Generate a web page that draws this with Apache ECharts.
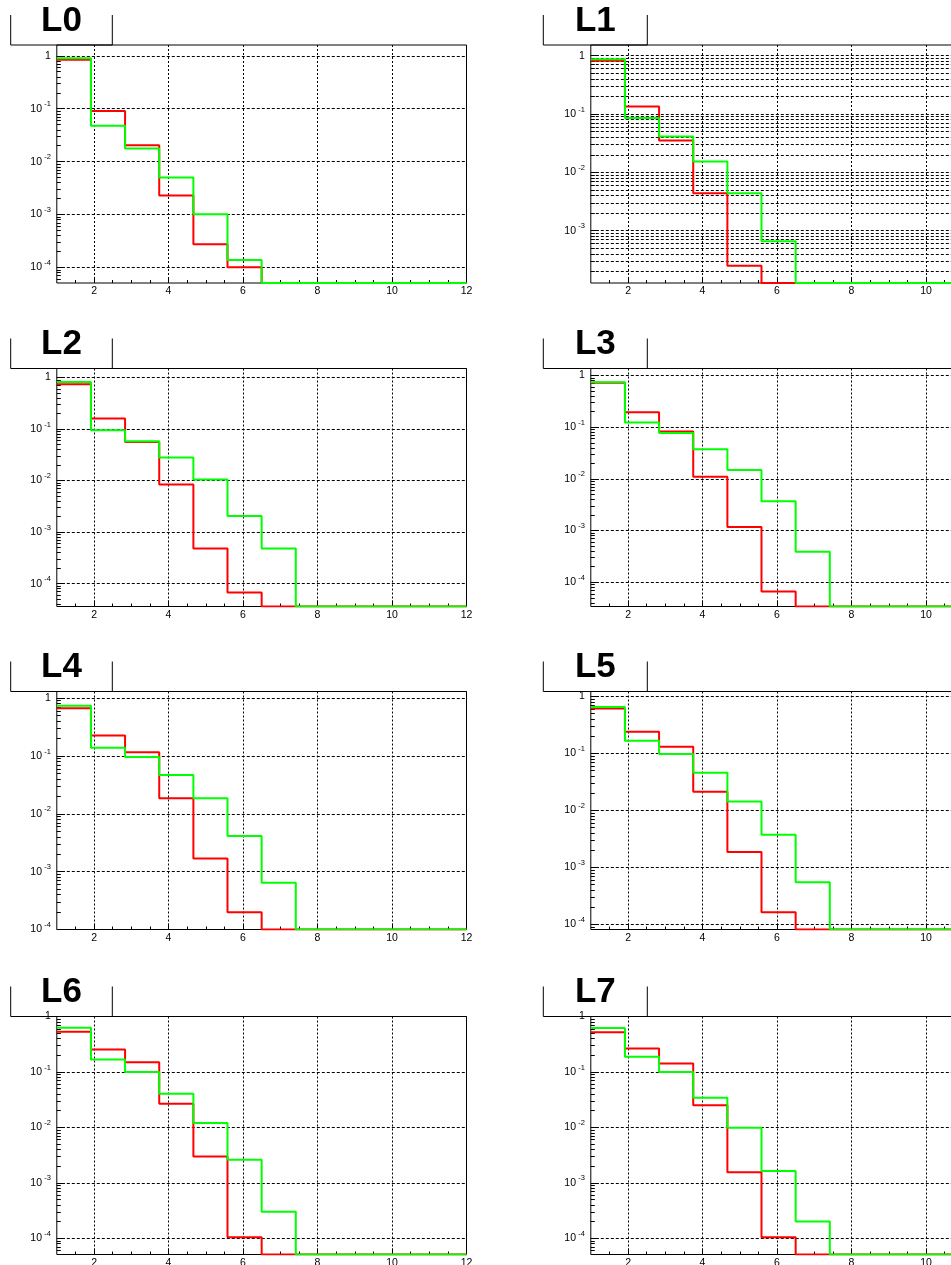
<!DOCTYPE html>
<html>
<head>
<meta charset="utf-8">
<script src="https://cdn.jsdelivr.net/npm/echarts@6/dist/echarts.min.js"></script>
<style>
html, body { margin: 0; padding: 0; background: #fff; }
#main { width: 951px; height: 1265px; }
</style>
</head>
<body>
<div id="main"></div>
<script>
// histogram binning: 12 bins between 1 and 12
var binLow = [1, 1.917, 2.833, 3.75, 4.667, 5.583, 6.5, 7.417, 8.333, 9.25, 10.167, 11.083];
var xMin = 1, xMax = 12;
var xTicks = [2, 4, 6, 8, 10, 12];
var xMinorTicks = [1.5, 2.5, 3, 3.5, 4.5, 5, 5.5, 6.5, 7, 7.5, 8.5, 9, 9.5, 10.5, 11, 11.5];

var panelNames = ['L0', 'L1', 'L2', 'L3', 'L4', 'L5', 'L6', 'L7'];

// bin contents (0 = empty bin, drawn on the frame floor like ROOT does)
var redL0   = [0.84, 0.091, 0.0205, 0.0023, 2.76e-4, 1.01e-4, 0, 0, 0, 0, 0, 0];
var greenL0 = [0.90, 0.0476, 0.0177, 0.0050, 1.02e-3, 1.38e-4, 0, 0, 0, 0, 0, 0];
var redL1   = [0.82, 0.134, 0.035, 0.0044, 2.5e-4, 0, 0, 0, 0, 0, 0, 0];
var greenL1 = [0.87, 0.085, 0.041, 0.0153, 0.0044, 6.6e-4, 0, 0, 0, 0, 0, 0];
var redL2   = [0.74, 0.16, 0.056, 0.0084, 4.8e-4, 6.7e-5, 0, 0, 0, 0, 0, 0];
var greenL2 = [0.82, 0.095, 0.058, 0.028, 0.0105, 0.00206, 4.8e-4, 0, 0, 0, 0, 0];
var redL3   = [0.73, 0.194, 0.083, 0.011, 0.00117, 6.6e-5, 0, 0, 0, 0, 0, 0];
var greenL3 = [0.74, 0.124, 0.077, 0.0375, 0.0149, 0.0037, 3.9e-4, 0, 0, 0, 0, 0];
var redL4   = [0.67, 0.225, 0.116, 0.0185, 0.00169, 1.99e-4, 0, 0, 0, 0, 0, 0];
var greenL4 = [0.74, 0.138, 0.096, 0.0467, 0.0185, 0.00415, 6.4e-4, 0, 0, 0, 0, 0];
var redL5   = [0.61, 0.238, 0.130, 0.0213, 0.00186, 1.64e-4, 0, 0, 0, 0, 0, 0];
var greenL5 = [0.65, 0.166, 0.097, 0.0458, 0.0143, 0.00373, 5.5e-4, 0, 0, 0, 0, 0];
var redL6   = [0.53, 0.253, 0.15, 0.0268, 0.0030, 1.04e-4, 0, 0, 0, 0, 0, 0];
var greenL6 = [0.63, 0.167, 0.10, 0.0406, 0.0120, 0.0026, 3.0e-4, 0, 0, 0, 0, 0];
var redL7   = [0.52, 0.264, 0.142, 0.025, 0.00156, 1.04e-4, 0, 0, 0, 0, 0, 0];
var greenL7 = [0.62, 0.187, 0.10, 0.0344, 0.00986, 0.00163, 2.0e-4, 0, 0, 0, 0, 0];

var redData   = [redL0, redL1, redL2, redL3, redL4, redL5, redL6, redL7];
var greenData = [greenL0, greenL1, greenL2, greenL3, greenL4, greenL5, greenL6, greenL7];

// y ranges of every pad (log scale)
var yMinList = [5.1e-5, 1.27e-4, 3.6e-5, 3.4e-5, 1e-4, 8.2e-5, 5.1e-5, 5.1e-5];
var yMaxList = [1.6, 1.52, 1.5, 1.37, 1.3, 1.21, 1.0, 1.0];

// layout of the 2 x 4 pads
var colLeft = [56.8, 590.8];
var frameW = 409.7;
var rowTop = [45, 368.5, 691.5, 1016.5];
var frameH = 238;
var boxLeft = [10.7, 543.3];
var boxRight = [112.3, 647.3];
var boxH = 30;

var FONT = '"Liberation Sans", Arial, Helvetica, sans-serif';

function decadesIn(lo, hi) {
    var out = [];
    for (var e = Math.ceil(Math.log10(lo) - 1e-9); e <= Math.floor(Math.log10(hi) + 1e-9); e++) {
        out.push(Math.pow(10, e));
    }
    return out;
}
function minorsIn(lo, hi) {
    var out = [];
    for (var e = Math.floor(Math.log10(lo)); e <= Math.floor(Math.log10(hi)); e++) {
        for (var m = 2; m <= 9; m++) {
            var v = parseFloat((m * Math.pow(10, e)).toPrecision(6));
            if (v > lo && v < hi) out.push(v);
        }
    }
    return out;
}
function histPoints(vals, floor) {
    var pts = binLow.map(function (x, i) {
        return [x, vals[i] > 0 ? vals[i] : floor];
    });
    pts.push([xMax, pts[pts.length - 1][1]]);
    return pts;
}
function logLabel(v) {
    var e = Math.round(Math.log10(v));
    if (e === 0) return '{b|1}';
    return '{b|10}{s| ' + e + '}';
}

var grids = [], xAxes = [], yAxes = [], series = [], graphics = [];

panelNames.forEach(function (name, p) {
    var col = p % 2, row = Math.floor(p / 2);
    var left = colLeft[col], top = rowTop[row];
    var yMin = yMinList[p], yMax = yMaxList[p];

    grids.push({
        left: left, top: top, width: frameW, height: frameH,
        containLabel: false, outerBoundsMode: 'none',
        show: true, borderColor: '#000', borderWidth: 1, backgroundColor: '#fff'
    });

    xAxes.push({
        type: 'value', gridIndex: p, position: 'bottom', min: xMin, max: xMax,
        axisLine: { show: false },
        axisTick: { show: true, inside: true, length: 6, customValues: xTicks, lineStyle: { color: '#000' } },
        axisLabel: { customValues: xTicks, fontSize: 10.5, margin: 3, color: '#000', fontFamily: FONT },
        splitLine: { show: true, lineStyle: { color: '#000', width: 1, type: [2, 2] } }
    });
    xAxes.push({
        type: 'value', gridIndex: p, position: 'bottom', min: xMin, max: xMax,
        axisLine: { show: false },
        axisTick: { show: true, inside: true, length: 3, customValues: xMinorTicks, lineStyle: { color: '#000' } },
        axisLabel: { show: false },
        splitLine: { show: false }
    });

    var majors = decadesIn(yMin, yMax);
    yAxes.push({
        type: 'log', logBase: 10, gridIndex: p, position: 'left', min: yMin, max: yMax,
        axisLine: { show: false },
        axisTick: { show: true, inside: true, length: 8, customValues: majors, lineStyle: { color: '#000' } },
        axisLabel: {
            customValues: majors, margin: 6, formatter: logLabel,
            rich: {
                b: { fontSize: 10.5, fontFamily: FONT, color: '#000', lineHeight: 17 },
                s: { fontSize: 7.5, fontFamily: FONT, color: '#000', lineHeight: 9, verticalAlign: 'top' }
            }
        },
        splitLine: { show: true, lineStyle: { color: '#000', width: 1, type: [3, 2] } }
    });
    yAxes.push({
        type: 'log', logBase: 10, gridIndex: p, position: 'left', min: yMin, max: yMax,
        axisLine: { show: false },
        axisTick: { show: true, inside: true, length: 4, customValues: minorsIn(yMin, yMax), lineStyle: { color: '#000' } },
        axisLabel: { show: false },
        // only L1 has its grid drawn on the minor divisions too
        splitLine: { show: name === 'L1', lineStyle: { color: '#000', width: 1, type: [3, 2] } }
    });

    series.push({
        name: name + ' red', type: 'line', step: 'end', xAxisIndex: 2 * p, yAxisIndex: 2 * p,
        data: histPoints(redData[p], yMin), symbol: 'none',
        lineStyle: { color: '#ff0000', width: 2 }, itemStyle: { color: '#ff0000' },
        z: 3
    });
    series.push({
        name: name + ' green', type: 'line', step: 'end', xAxisIndex: 2 * p, yAxisIndex: 2 * p,
        data: histPoints(greenData[p], yMin), symbol: 'none',
        lineStyle: { color: '#00ff00', width: 2 }, itemStyle: { color: '#00ff00' },
        z: 4
    });

    // title box (open at the top) and title text
    graphics.push({
        type: 'polyline', silent: true,
        shape: { points: [[boxLeft[col], top - boxH], [boxLeft[col], top], [boxRight[col], top], [boxRight[col], top - boxH]] },
        style: { stroke: '#000', lineWidth: 1, fill: null }
    });
    graphics.push({
        type: 'text', silent: true,
        x: (boxLeft[col] + boxRight[col]) / 2, y: top - 24,
        style: {
            text: name, fill: '#000', fontSize: 35, fontWeight: 'bold', fontFamily: FONT,
            align: 'center', verticalAlign: 'middle'
        }
    });
});

var myChart = echarts.init(document.getElementById('main'));
var option = {
    backgroundColor: '#fff',
    animation: false,
    grid: grids,
    xAxis: xAxes,
    yAxis: yAxes,
    series: series,
    graphic: graphics
};
myChart.setOption(option, true);
</script>
</body>
</html>
